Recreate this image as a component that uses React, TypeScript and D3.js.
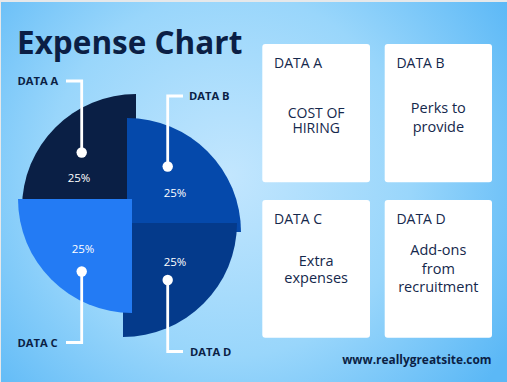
import React from "react";
import * as d3 from "d3";

const categories = ["DATA A", "DATA B", "DATA C", "DATA D"];
const values = [25, 25, 25, 25];
const cardTexts = [
  ["COST OF", "HIRING"],
  ["Perks to", "provide"],
  ["Extra", "expenses"],
  ["Add-ons", "from", "recruitment"],
];
const clockwiseOrder = ["DATA A", "DATA B", "DATA D", "DATA C"];

const W = 507;
const H = 382;
const R = 114;
const FONT = "'Open Sans', 'Noto Sans', sans-serif";
const NAVY = "#0b1f45";

const sliceColors: Record<string, string> = {
  "DATA A": "#0a1f45",
  "DATA B": "#0549ab",
  "DATA C": "#237bf4",
  "DATA D": "#043a8b",
};
// each slice is shifted a little from the others
const sliceCenters: Record<string, [number, number]> = {
  "DATA A": [136, 208],
  "DATA B": [127, 232],
  "DATA C": [132, 199],
  "DATA D": [123, 223],
};
const pctLabelPos: Record<string, [number, number]> = {
  "DATA A": [79, 182],
  "DATA B": [175, 197],
  "DATA C": [83, 253],
  "DATA D": [175, 266],
};
// leader: dot, elbow y, end x, label x, label anchor
const leaders: Record<string, { dot: [number, number]; y: number; x: number; lx: number; anchor: string }> = {
  "DATA A": { dot: [81.7, 152.5], y: 81, x: 66, lx: 17.5, anchor: "start" },
  "DATA B": { dot: [167.7, 166.5], y: 96, x: 183, lx: 189, anchor: "start" },
  "DATA C": { dot: [81.7, 271.5], y: 342.5, x: 66, lx: 17.5, anchor: "start" },
  "DATA D": { dot: [167.7, 280], y: 351.5, x: 183, lx: 190, anchor: "start" },
};
const cardRects = [
  { x: 262.3, y: 44, w: 107.7, h: 138.3 },
  { x: 384.7, y: 44, w: 107.3, h: 138.3 },
  { x: 262.3, y: 200, w: 107.7, h: 137.7 },
  { x: 384.7, y: 200, w: 107.3, h: 137.7 },
];
const cardLineBaselines = [
  [118, 133],
  [113.3, 131.7],
  [265.7, 283.3],
  [255, 274, 292.3],
];

export default function App() {
  const data = categories.map((c, i) => ({ cat: c, value: values[i] }));
  const pie = d3
    .pie<{ cat: string; value: number }>()
    .value((d) => d.value)
    .sort((a, b) => clockwiseOrder.indexOf(a.cat) - clockwiseOrder.indexOf(b.cat))
    .startAngle(-Math.PI / 2)
    .endAngle((3 * Math.PI) / 2);
  const arcs = pie(data).sort(
    (a, b) => clockwiseOrder.indexOf(a.data.cat) - clockwiseOrder.indexOf(b.data.cat)
  );
  const arc = d3.arc<d3.PieArcDatum<{ cat: string; value: number }>>().innerRadius(0).outerRadius(R);
  const total = d3.sum(values);
  const fmt = d3.format(".0%");

  return (
    <svg
      width={W}
      height={H}
      style={{ position: "fixed", left: 0, top: 0, display: "block" }}
      fontFamily={FONT}
    >
      <defs>
        <radialGradient id="bg" cx="230" cy="175" r="330" gradientUnits="userSpaceOnUse">
          <stop offset="0" stopColor="#c2e6fe" />
          <stop offset="0.55" stopColor="#99d6fb" />
          <stop offset="1" stopColor="#5bb8f6" />
        </radialGradient>
      </defs>
      <rect x={0} y={0} width={W} height={H} fill="#e6e8ea" />
      <rect x={1} y={2} width={W - 1} height={H - 2} fill="url(#bg)" />

      <text x={17} y={54} fontSize={31.5} fontWeight={700} fill={NAVY}>
        Expense Chart
      </text>

      {arcs.map((a) => {
        const [cx, cy] = sliceCenters[a.data.cat];
        return (
          <path
            key={a.data.cat}
            d={arc(a) || ""}
            transform={`translate(${cx},${cy})`}
            fill={sliceColors[a.data.cat]}
          />
        );
      })}

      {arcs.map((a) => {
        const [x, y] = pctLabelPos[a.data.cat];
        return (
          <text key={"p" + a.data.cat} x={x} y={y} fontSize={11.5} fill="#ffffff" textAnchor="middle">
            {fmt(a.data.value / total)}
          </text>
        );
      })}

      {categories.map((c) => {
        const l = leaders[c];
        return (
          <g key={"l" + c}>
            <path
              d={`M${l.dot[0]},${l.dot[1]}V${l.y}H${l.x}`}
              fill="none"
              stroke="#ffffff"
              strokeWidth={2.8}
            />
            <circle cx={l.dot[0]} cy={l.dot[1]} r={5.2} fill="#ffffff" />
            <text
              x={l.lx}
              y={l.y + 4}
              fontSize={11.2}
              fontWeight={700}
              fill={NAVY}
              textAnchor={l.anchor as any}
            >
              {c}
            </text>
          </g>
        );
      })}

      {categories.map((c, i) => {
        const r = cardRects[i];
        return (
          <g key={"c" + c}>
            <rect x={r.x} y={r.y} width={r.w} height={r.h} rx={3} fill="#ffffff" />
            <text x={r.x + 11.7} y={r.y + 24.3} fontSize={14} fill="#15284c">
              {c}
            </text>
            {cardTexts[i].map((t, j) => (
              <text
                key={j}
                x={r.x + r.w / 2}
                y={cardLineBaselines[i][j]}
                fontSize={i === 0 ? 14 : 14.5}
                fill="#15284c"
                textAnchor="middle"
              >
                {t}
              </text>
            ))}
          </g>
        );
      })}

      <text x={491.5} y={363.5} fontSize={11.9} fontWeight={700} fill={NAVY} textAnchor="end">
        www.reallygreatsite.com
      </text>
    </svg>
  );
}
